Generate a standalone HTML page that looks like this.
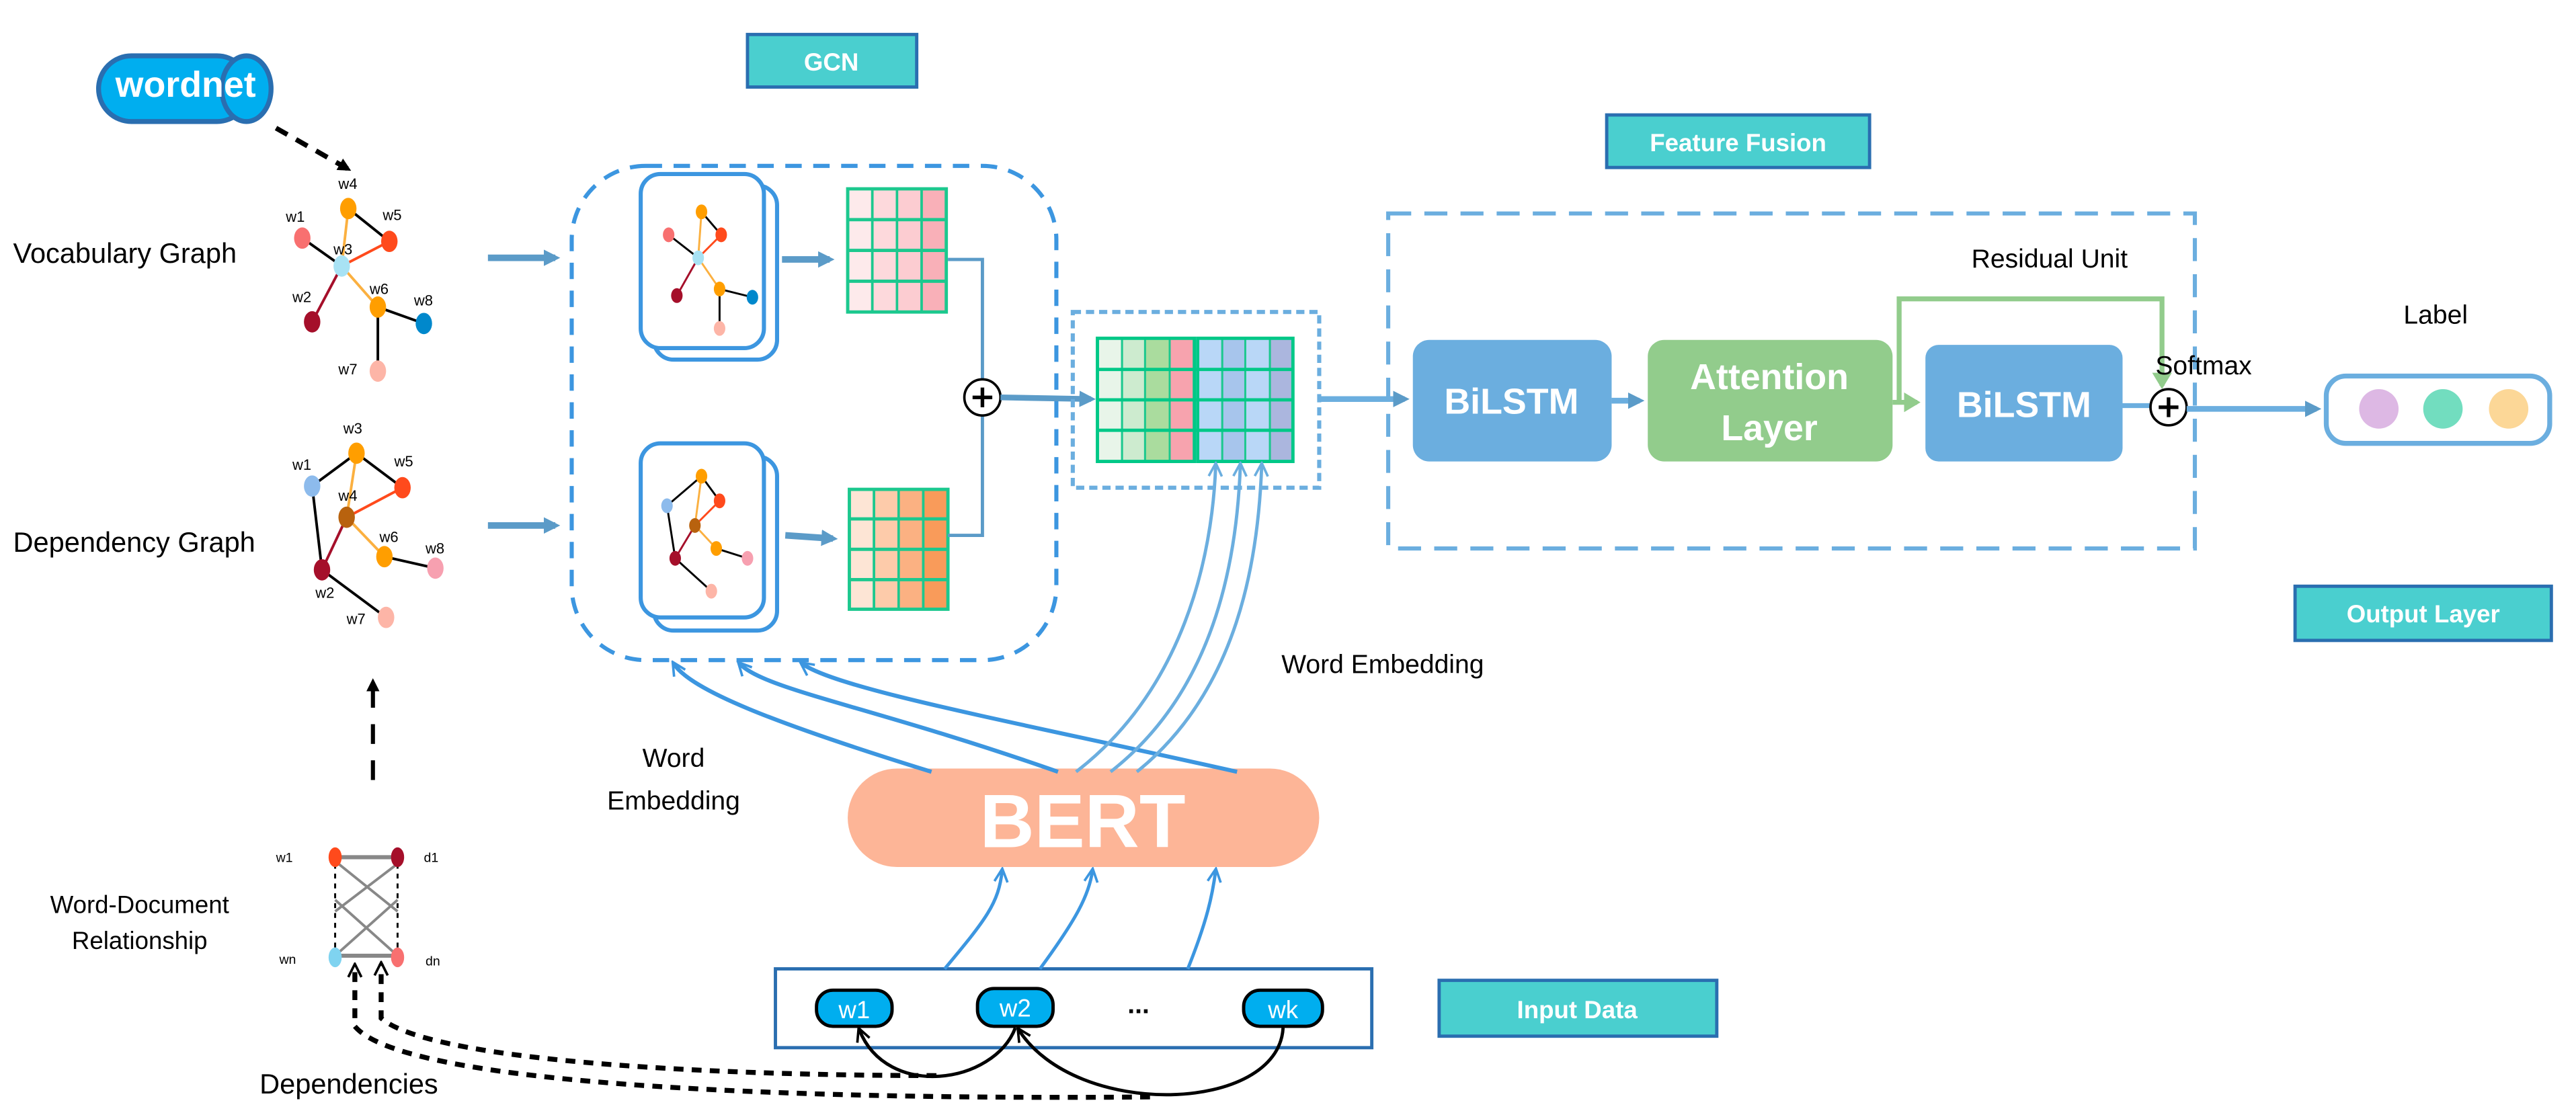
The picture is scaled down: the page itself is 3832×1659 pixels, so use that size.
<!DOCTYPE html>
<html><head><meta charset="utf-8"><style>html,body{margin:0;padding:0;background:#fff}svg{display:block}</style></head>
<body>
<svg width="3832" height="1659" viewBox="0 0 1568 679" preserveAspectRatio="none" xmlns="http://www.w3.org/2000/svg" font-family="Liberation Sans, sans-serif">
<defs>
<marker id="ab" markerWidth="8" markerHeight="8" refX="6" refY="4" orient="auto" markerUnits="userSpaceOnUse"><path d="M0,0 L8,4 L0,8 z" fill="#000"/></marker>
<marker id="abl" markerWidth="10" markerHeight="10" refX="7" refY="5" orient="auto" markerUnits="userSpaceOnUse"><path d="M0,0 L10,5 L0,10 z" fill="#5B9BC8"/></marker>
<marker id="abb" markerWidth="10" markerHeight="10" refX="8" refY="5" orient="auto" markerUnits="userSpaceOnUse"><path d="M1,1 L9,5 L1,9" fill="none" stroke="#3C96E0" stroke-width="1.5"/></marker>
<marker id="alb" markerWidth="10" markerHeight="10" refX="8" refY="5" orient="auto" markerUnits="userSpaceOnUse"><path d="M1,1 L9,5 L1,9" fill="none" stroke="#6BAEDF" stroke-width="1.5"/></marker>
<marker id="ag" markerWidth="10" markerHeight="12" refX="8" refY="6" orient="auto" markerUnits="userSpaceOnUse"><path d="M0,0 L10,6 L0,12 z" fill="#92CC8C"/></marker>
<marker id="ak" markerWidth="10" markerHeight="10" refX="8" refY="5" orient="auto" markerUnits="userSpaceOnUse"><path d="M1,1 L9,5 L1,9" fill="none" stroke="#000" stroke-width="1.5"/></marker>
</defs>

<!-- wordnet -->
<rect x="60" y="34" width="92" height="40" rx="20" fill="#00AEEF" stroke="#2A6EB0" stroke-width="3"/>
<ellipse cx="150" cy="54" rx="15" ry="20" fill="#00AEEF" stroke="#2A6EB0" stroke-width="3"/>
<text x="113" y="59" font-size="22" font-weight="bold" fill="#fff" text-anchor="middle">wordnet</text>
<path d="M168,78 L212,103" stroke="#000" stroke-width="3" stroke-dasharray="8,6" marker-end="url(#ab)"/>

<!-- GCN label -->
<rect x="455" y="21" width="103" height="32" fill="#4ACFCF" stroke="#2A6EB0" stroke-width="2"/>
<text x="506" y="43" font-size="15" font-weight="bold" fill="#fff" text-anchor="middle">GCN</text>

<!-- Vocabulary graph -->
<text x="8" y="160" font-size="17">Vocabulary Graph</text>
<g stroke-width="1.6">
<line x1="212" y1="127" x2="237" y2="147" stroke="#000"/>
<line x1="212" y1="127" x2="208" y2="162" stroke="#FBB040"/>
<line x1="237" y1="147" x2="208" y2="162" stroke="#FF4A1C"/>
<line x1="184" y1="145" x2="208" y2="162" stroke="#000"/>
<line x1="208" y1="162" x2="190" y2="196" stroke="#A50F2A"/>
<line x1="208" y1="162" x2="230" y2="187" stroke="#FBB040"/>
<line x1="230" y1="187" x2="258" y2="197" stroke="#000"/>
<line x1="230" y1="187" x2="230" y2="226" stroke="#000"/>
</g>
<ellipse cx="212" cy="127" rx="5" ry="6.5" fill="#FF9E00"/>
<ellipse cx="237" cy="147" rx="5" ry="6.5" fill="#FF4A1C"/>
<ellipse cx="184" cy="145" rx="5" ry="6.5" fill="#F87070"/>
<ellipse cx="208" cy="162" rx="5" ry="6.5" fill="#A8E2F4"/>
<ellipse cx="190" cy="196" rx="5" ry="6.5" fill="#A50F2A"/>
<ellipse cx="230" cy="187" rx="5" ry="6.5" fill="#FF9E00"/>
<ellipse cx="258" cy="197" rx="5" ry="6.5" fill="#0088CC"/>
<ellipse cx="230" cy="226" rx="5" ry="6.5" fill="#FDB5A7"/>
<g font-size="9">
<text x="206" y="115">w4</text><text x="233" y="134">w5</text><text x="174" y="135">w1</text>
<text x="203" y="155">w3</text><text x="178" y="184">w2</text><text x="225" y="179">w6</text>
<text x="252" y="186">w8</text><text x="206" y="228">w7</text>
</g>

<!-- Dependency graph -->
<text x="8" y="336" font-size="17">Dependency Graph</text>
<g stroke-width="1.6">
<line x1="217" y1="276" x2="190" y2="296" stroke="#000"/>
<line x1="217" y1="276" x2="245" y2="297" stroke="#000"/>
<line x1="217" y1="276" x2="211" y2="315" stroke="#FBB040"/>
<line x1="245" y1="297" x2="211" y2="315" stroke="#FF4A1C"/>
<line x1="190" y1="296" x2="196" y2="347" stroke="#000"/>
<line x1="211" y1="315" x2="196" y2="347" stroke="#A50F2A"/>
<line x1="211" y1="315" x2="234" y2="339" stroke="#FBB040"/>
<line x1="234" y1="339" x2="265" y2="346" stroke="#000"/>
<line x1="196" y1="347" x2="235" y2="376" stroke="#000"/>
</g>
<ellipse cx="217" cy="276" rx="5" ry="6.5" fill="#FF9E00"/>
<ellipse cx="245" cy="297" rx="5" ry="6.5" fill="#FF4A1C"/>
<ellipse cx="190" cy="296" rx="5" ry="6.5" fill="#8DBBEC"/>
<ellipse cx="211" cy="315" rx="5" ry="6.5" fill="#B8620E"/>
<ellipse cx="234" cy="339" rx="5" ry="6.5" fill="#FF9E00"/>
<ellipse cx="265" cy="346" rx="5" ry="6.5" fill="#F7A0B0"/>
<ellipse cx="196" cy="347" rx="5" ry="6.5" fill="#A50F2A"/>
<ellipse cx="235" cy="376" rx="5" ry="6.5" fill="#FDB5A7"/>
<g font-size="9">
<text x="209" y="264">w3</text><text x="240" y="284">w5</text><text x="178" y="286">w1</text>
<text x="206" y="305">w4</text><text x="231" y="330">w6</text><text x="259" y="337">w8</text>
<text x="192" y="364">w2</text><text x="211" y="380">w7</text>
</g>

<!-- arrows to GCN -->
<path d="M297,157 L338,157" stroke="#5B9BC8" stroke-width="4" marker-end="url(#abl)"/>
<path d="M297,320 L338,320" stroke="#5B9BC8" stroke-width="4" marker-end="url(#abl)"/>

<!-- GCN dashed container -->
<rect x="348" y="101" width="295" height="301" rx="45" fill="none" stroke="#3C96E0" stroke-width="2.5" stroke-dasharray="10,7"/>

<!-- top card -->
<rect x="398" y="113" width="75" height="106" rx="12" fill="#fff" stroke="#3C96E0" stroke-width="2.5"/>
<rect x="390" y="106" width="75" height="106" rx="12" fill="#fff" stroke="#3C96E0" stroke-width="2.5"/>
<g stroke-width="1.2">
<line x1="427" y1="129" x2="439" y2="143" stroke="#000"/><line x1="427" y1="129" x2="425" y2="157" stroke="#FBB040"/>
<line x1="439" y1="143" x2="425" y2="157" stroke="#FF4A1C"/><line x1="407" y1="143" x2="425" y2="157" stroke="#000"/>
<line x1="425" y1="157" x2="412" y2="180" stroke="#A50F2A"/><line x1="425" y1="157" x2="438" y2="176" stroke="#FBB040"/>
<line x1="438" y1="176" x2="458" y2="181" stroke="#000"/><line x1="438" y1="176" x2="438" y2="200" stroke="#000"/>
</g>
<ellipse cx="427" cy="129" rx="3.5" ry="4.5" fill="#FF9E00"/><ellipse cx="439" cy="143" rx="3.5" ry="4.5" fill="#FF4A1C"/>
<ellipse cx="407" cy="143" rx="3.5" ry="4.5" fill="#F87070"/><ellipse cx="425" cy="157" rx="3.5" ry="4.5" fill="#A8E2F4"/>
<ellipse cx="412" cy="180" rx="3.5" ry="4.5" fill="#A50F2A"/><ellipse cx="438" cy="176" rx="3.5" ry="4.5" fill="#FF9E00"/>
<ellipse cx="458" cy="181" rx="3.5" ry="4.5" fill="#0088CC"/><ellipse cx="438" cy="200" rx="3.5" ry="4.5" fill="#FDB5A7"/>
<path d="M476,158 L505,158" stroke="#5B9BC8" stroke-width="4" marker-end="url(#abl)"/>

<!-- bottom card -->
<rect x="398" y="278" width="75" height="106" rx="12" fill="#fff" stroke="#3C96E0" stroke-width="2.5"/>
<rect x="390" y="270" width="75" height="106" rx="12" fill="#fff" stroke="#3C96E0" stroke-width="2.5"/>
<g stroke-width="1.2">
<line x1="427" y1="290" x2="406" y2="308" stroke="#000"/><line x1="427" y1="290" x2="438" y2="305" stroke="#000"/>
<line x1="427" y1="290" x2="423" y2="320" stroke="#FBB040"/><line x1="438" y1="305" x2="423" y2="320" stroke="#FF4A1C"/>
<line x1="406" y1="308" x2="411" y2="340" stroke="#000"/><line x1="423" y1="320" x2="411" y2="340" stroke="#A50F2A"/>
<line x1="423" y1="320" x2="436" y2="334" stroke="#FBB040"/><line x1="436" y1="334" x2="455" y2="340" stroke="#000"/>
<line x1="411" y1="340" x2="433" y2="360" stroke="#000"/>
</g>
<ellipse cx="427" cy="290" rx="3.5" ry="4.5" fill="#FF9E00"/><ellipse cx="438" cy="305" rx="3.5" ry="4.5" fill="#FF4A1C"/>
<ellipse cx="406" cy="308" rx="3.5" ry="4.5" fill="#8DBBEC"/><ellipse cx="423" cy="320" rx="3.5" ry="4.5" fill="#B8620E"/>
<ellipse cx="411" cy="340" rx="3.5" ry="4.5" fill="#A50F2A"/><ellipse cx="436" cy="334" rx="3.5" ry="4.5" fill="#FF9E00"/>
<ellipse cx="455" cy="340" rx="3.5" ry="4.5" fill="#F7A0B0"/><ellipse cx="433" cy="360" rx="3.5" ry="4.5" fill="#FDB5A7"/>
<path d="M478,326 L507,328" stroke="#5B9BC8" stroke-width="4" marker-end="url(#abl)"/>

<!-- top matrix -->
<g stroke="#1CC88E" stroke-width="1.5">
<rect x="516" y="115" width="15" height="75" fill="#FDEAEB"/><rect x="531" y="115" width="15" height="75" fill="#FDD9DC"/>
<rect x="546" y="115" width="15" height="75" fill="#FCCCD1"/><rect x="561" y="115" width="15" height="75" fill="#F9B0B8"/>
<rect x="516" y="115" width="60" height="75" fill="none" stroke-width="2"/>
<line x1="516" y1="133.75" x2="576" y2="133.75" stroke-width="2"/><line x1="516" y1="152.5" x2="576" y2="152.5" stroke-width="2"/><line x1="516" y1="171.25" x2="576" y2="171.25" stroke-width="2"/>
</g>
<!-- bottom matrix -->
<g stroke="#1CC88E" stroke-width="1.5">
<rect x="517" y="298" width="15" height="73" fill="#FDE5D5"/><rect x="532" y="298" width="15" height="73" fill="#FDCBAA"/>
<rect x="547" y="298" width="15" height="73" fill="#FBB182"/><rect x="562" y="298" width="15" height="73" fill="#F99B5A"/>
<rect x="517" y="298" width="60" height="73" fill="none" stroke-width="2"/>
<line x1="517" y1="316" x2="577" y2="316" stroke-width="2"/><line x1="517" y1="334.5" x2="577" y2="334.5" stroke-width="2"/><line x1="517" y1="353" x2="577" y2="353" stroke-width="2"/>
</g>
<path d="M577,158 L598,158 L598,231 M598,253 L598,326 L577,326" fill="none" stroke="#5B9BC8" stroke-width="2"/>
<circle cx="598" cy="242" r="11" fill="#fff" stroke="#000" stroke-width="1.5"/>
<path d="M592,242 H604 M598,236 V248" stroke="#000" stroke-width="2.2"/>
<path d="M609,242 L664,243" stroke="#5B9BC8" stroke-width="3.5" marker-end="url(#abl)"/>

<!-- fusion matrix -->
<rect x="653" y="190" width="150" height="107" fill="none" stroke="#6BAEDF" stroke-width="2.5" stroke-dasharray="5,3"/>
<g stroke="#1CC88E" stroke-width="1.2">
<rect x="668" y="206" width="15" height="75" fill="#E8F5E9"/><rect x="683" y="206" width="14" height="75" fill="#CDEBCF"/>
<rect x="697" y="206" width="15" height="75" fill="#AADC9E"/><rect x="712" y="206" width="15" height="75" fill="#F7A3AE"/>
<rect x="729" y="206" width="15" height="75" fill="#B9D7F7"/><rect x="744" y="206" width="14" height="75" fill="#A7C5EC"/>
<rect x="758" y="206" width="15" height="75" fill="#B9D7F7"/><rect x="773" y="206" width="14" height="75" fill="#ABB6DE"/>
</g>
<g stroke="#00C887" stroke-width="2" fill="none">
<rect x="668" y="206" width="59" height="75"/><rect x="729" y="206" width="58" height="75"/>
<line x1="668" y1="225" x2="787" y2="225"/><line x1="668" y1="243.5" x2="787" y2="243.5"/><line x1="668" y1="262" x2="787" y2="262"/>
</g>

<!-- Feature Fusion label -->
<rect x="978" y="70" width="160" height="32" fill="#4ACFCF" stroke="#2A6EB0" stroke-width="2"/>
<text x="1058" y="92" font-size="15" font-weight="bold" fill="#fff" text-anchor="middle">Feature Fusion</text>

<!-- big dashed box -->
<rect x="845" y="130" width="491" height="204" fill="none" stroke="#6BAEDF" stroke-width="2.5" stroke-dasharray="14,8"/>
<text x="1200" y="163" font-size="16">Residual Unit</text>

<path d="M803,243 L855,243" stroke="#6BAEDF" stroke-width="3.5" marker-end="url(#abl)"/>
<rect x="860" y="207" width="121" height="74" rx="10" fill="#6BAEDF"/>
<text x="920" y="252" font-size="22" font-weight="bold" fill="#fff" text-anchor="middle">BiLSTM</text>
<path d="M981,244 L998,244" stroke="#6BAEDF" stroke-width="3.5" marker-end="url(#abl)"/>
<rect x="1003" y="207" width="149" height="74" rx="10" fill="#92CC8C"/>
<text x="1077" y="237" font-size="22" font-weight="bold" fill="#fff" text-anchor="middle">Attention</text>
<text x="1077" y="268" font-size="22" font-weight="bold" fill="#fff" text-anchor="middle">Layer</text>
<path d="M1152,245 L1167,245" stroke="#92CC8C" stroke-width="3" marker-end="url(#ag)"/>
<path d="M1156,245 L1156,182 L1316,182 L1316,235" fill="none" stroke="#92CC8C" stroke-width="3" marker-end="url(#ag)"/>
<rect x="1172" y="210" width="120" height="71" rx="8" fill="#6BAEDF"/>
<text x="1232" y="254" font-size="22" font-weight="bold" fill="#fff" text-anchor="middle">BiLSTM</text>
<line x1="1292" y1="247" x2="1309" y2="247" stroke="#6BAEDF" stroke-width="3"/>
<circle cx="1320" cy="248" r="11" fill="#fff" stroke="#000" stroke-width="1.5"/>
<path d="M1314,248 H1326 M1320,242 V254" stroke="#000" stroke-width="2.2"/>
<path d="M1331,249 L1410,249" stroke="#6BAEDF" stroke-width="3.5" marker-end="url(#abl)"/>
<text x="1312" y="228" font-size="16">Softmax</text>
<text x="1463" y="197" font-size="16">Label</text>
<rect x="1416" y="229" width="136" height="41" rx="12" fill="#fff" stroke="#6BAEDF" stroke-width="3"/>
<ellipse cx="1448" cy="249" rx="12" ry="12" fill="#DDB8E4"/>
<ellipse cx="1487" cy="249" rx="12" ry="12" fill="#72DDBF"/>
<ellipse cx="1527" cy="249" rx="12" ry="12" fill="#FCD797"/>
<rect x="1397" y="357" width="156" height="33" fill="#4ACFCF" stroke="#2A6EB0" stroke-width="2"/>
<text x="1475" y="379" font-size="15" font-weight="bold" fill="#fff" text-anchor="middle">Output Layer</text>

<text x="780" y="410" font-size="16">Word Embedding</text>

<!-- BERT -->
<rect x="516" y="468" width="287" height="60" rx="30" fill="#FDB597"/>
<text x="659" y="516" font-size="46" font-weight="bold" fill="#fff" text-anchor="middle">BERT</text>
<text x="410" y="467" font-size="16" text-anchor="middle">Word</text>
<text x="410" y="493" font-size="16" text-anchor="middle">Embedding</text>

<!-- BERT -> GCN curves -->
<g fill="none" stroke="#3C96E0" stroke-width="2.5">
<path d="M567,470 C470,440 420,420 410,404" marker-end="url(#abb)"/>
<path d="M644,470 C530,430 465,420 450,404" marker-end="url(#abb)"/>
<path d="M753,470 C620,440 510,420 488,404" marker-end="url(#abb)"/>
</g>
<!-- BERT -> fusion -->
<g fill="none" stroke="#6BAEDF" stroke-width="2">
<path d="M655,470 C720,420 738,340 740,283" marker-end="url(#alb)"/>
<path d="M676,470 C740,420 753,340 755,283" marker-end="url(#alb)"/>
<path d="M692,470 C754,420 766,340 768,283" marker-end="url(#alb)"/>
</g>

<!-- Input box -->
<rect x="472" y="590" width="363" height="48" fill="#fff" stroke="#2A6EB0" stroke-width="2"/>
<g fill="none" stroke="#3C96E0" stroke-width="2">
<path d="M575,590 C600,560 608,550 610,530" marker-end="url(#abb)"/>
<path d="M633,590 C655,560 663,545 665,530" marker-end="url(#abb)"/>
<path d="M723,590 C735,560 738,545 740,530" marker-end="url(#abb)"/>
</g>
<g stroke="#000" stroke-width="2" fill="#00AEEF">
<rect x="497" y="603" width="46" height="22" rx="10"/>
<rect x="595" y="602" width="46" height="23" rx="10"/>
<rect x="757" y="603" width="48" height="22" rx="10"/>
</g>
<g font-size="15" fill="#fff" text-anchor="middle">
<text x="520" y="620">w1</text><text x="618" y="619">w2</text><text x="781" y="620">wk</text>
</g>
<text x="693" y="617" font-size="16" font-weight="bold" text-anchor="middle">...</text>
<rect x="876" y="597" width="169" height="34" fill="#4ACFCF" stroke="#2A6EB0" stroke-width="2"/>
<text x="960" y="620" font-size="15" font-weight="bold" fill="#fff" text-anchor="middle">Input Data</text>

<!-- dependency arcs -->
<g fill="none" stroke="#000" stroke-width="2">
<path d="M618,626 C605,660 540,670 523,627" marker-end="url(#ak)"/>
<path d="M781,626 C778,678 655,682 620,627" marker-end="url(#ak)"/>
</g>
<g fill="none" stroke="#000" stroke-width="3" stroke-dasharray="6,5">
<path d="M570,655 C420,655 260,645 232,620 L232,587" marker-end="url(#ak)"/>
<path d="M700,668 C470,670 245,660 216,625 L216,588" marker-end="url(#ak)"/>
</g>
<text x="158" y="666" font-size="17">Dependencies</text>

<!-- dashed up arrow -->
<path d="M227,475 L227,415" stroke="#000" stroke-width="2.5" stroke-dasharray="12,10" marker-end="url(#ab)"/>

<!-- Word-Document -->
<text x="85" y="556" font-size="15" text-anchor="middle">Word-Document</text>
<text x="85" y="578" font-size="15" text-anchor="middle">Relationship</text>
<g stroke="#000" stroke-width="1.2" stroke-dasharray="3,3"><line x1="204" y1="526" x2="204" y2="578"/><line x1="242" y1="526" x2="242" y2="578"/></g>
<g stroke="#888" stroke-width="1.6">
<line x1="204" y1="522" x2="242" y2="522" stroke-width="2.5"/><line x1="204" y1="582" x2="242" y2="582" stroke-width="2.5"/>
<line x1="206" y1="526" x2="242" y2="555"/><line x1="242" y1="526" x2="204" y2="555"/>
<line x1="204" y1="548" x2="242" y2="582"/><line x1="242" y1="548" x2="204" y2="582"/>
</g>
<ellipse cx="204" cy="522" rx="4" ry="6" fill="#FF4A1C"/><ellipse cx="242" cy="522" rx="4" ry="6" fill="#A50F2A"/>
<ellipse cx="204" cy="583" rx="4" ry="6" fill="#7FD3F0"/><ellipse cx="242" cy="583" rx="4" ry="6" fill="#F87070"/>
<g font-size="8"><text x="168" y="525">w1</text><text x="258" y="525">d1</text><text x="170" y="587">wn</text><text x="259" y="588">dn</text></g>
</svg>
</body></html>
